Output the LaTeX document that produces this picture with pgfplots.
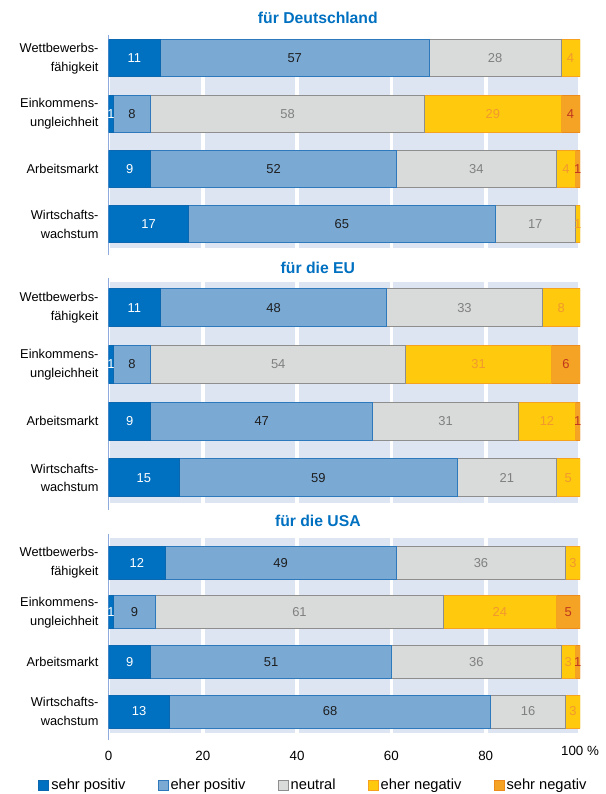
\documentclass[border=0pt]{standalone}
\usepackage{fontspec}
\setmainfont{Liberation Sans}
\usepackage{pgfplots}
\usepackage{pgfplotstable}
\pgfplotsset{compat=1.18}
\definecolor{cSP}{HTML}{0070C0}
\definecolor{cSPd}{HTML}{0A67B0}
\definecolor{cEP}{HTML}{7AA9D4}
\definecolor{cEPd}{HTML}{2E78BC}
\definecolor{cNE}{HTML}{D9DADA}
\definecolor{cNEd}{HTML}{8E8E8E}
\definecolor{cEN}{HTML}{FFC90D}
\definecolor{cENd}{HTML}{F7A21E}
\definecolor{cSN}{HTML}{F5A324}
\definecolor{cSNd}{HTML}{EC8A1C}
\definecolor{tEN}{HTML}{F2992E}
\definecolor{tSN}{HTML}{C0371F}
\definecolor{tNE}{HTML}{808080}
\definecolor{tEP}{HTML}{1E1E1E}
\definecolor{bgc}{HTML}{DDE5F3}
\definecolor{axl}{HTML}{8FAADC}
\definecolor{ttl}{HTML}{0070C0}

\pgfplotstableread{
y sp ep ne en sn
0 11 57 28 4 0
1 1 8 58 29 4
2 9 52 34 4 1
3 17 65 17 1 0
}\dataDE
\pgfplotstableread{
y sp ep ne en sn
0 11 48 33 8 0
1 1 8 54 31 6
2 9 47 31 12 1
3 15 59 21 5 0
}\dataEU
\pgfplotstableread{
y sp ep ne en sn
0 12 49 36 3 0
1 1 9 61 24 5
2 9 51 36 3 1
3 13 68 16 3 0
}\dataUS

\pgfplotsset{
  panel/.style={
    xbar stacked, scale only axis, width=353.625pt, xmin=0, xmax=100,
    y dir=reverse, ytick={0,1,2,3},
    yticklabels={{Wettbewerbs-\\fähigkeit},{Einkommens-\\ungleichheit},{Arbeitsmarkt},{Wirtschafts-\\wachstum}},
    yticklabel style={align=right, font=\fontsize{9.6}{14}\selectfont, xshift=-4pt},
    xtick={0,20,40,60,80,100}, xmajorgrids, grid style={white, line width=2.8pt},
    axis background/.style={fill=bgc},
    major tick length=0pt,
    bar width=0.665,
    axis y line*=left, axis x line*=bottom,
    x axis line style={draw=none},
    y axis line style={draw=axl, line width=0.75pt, shorten <=-3pt, shorten >=-5pt},
    title style={at={(0.444,1)}, anchor=center, font=\fontsize{11.8}{14}\selectfont\bfseries, text=ttl},
    anchor=north west,
  },
  labs/.style={scale only axis, width=353.625pt, xmin=0, xmax=100, y dir=reverse, hide axis, anchor=north west},
  lab/.style={draw=none, mark=none, nodes near coords, point meta=explicit symbolic,
    every node near coord/.append style={anchor=center, font=\fontsize{9.7}{11}\selectfont, text=#1}},
  bSP/.style={fill=cSP, draw=cSPd, line width=0.75pt},
  bEP/.style={fill=cEP, draw=cEPd, line width=0.75pt},
  bNE/.style={fill=cNE, draw=cNEd, line width=0.75pt},
  bEN/.style={fill=cEN, draw=cENd, line width=0.75pt},
  bSN/.style={fill=cSN, draw=cSNd, line width=0.75pt},
}

\begin{document}
\begin{tikzpicture}
\useasboundingbox (0,0) rectangle (454.5pt,-595.5pt);

% ---------------- Deutschland
\begin{axis}[panel, at={(81.375pt,-29.25pt)}, height=156.75pt, ymin=-0.35, ymax=3.43,
  xticklabels={,,,,,}, title={für Deutschland}, title style={yshift=9.75pt}]
\addplot[bSP] table[x=sp,y=y]{\dataDE};
\addplot[bEP] table[x=ep,y=y]{\dataDE};
\addplot[bNE] table[x=ne,y=y]{\dataDE};
\addplot[bEN] table[x=en,y=y]{\dataDE};
\addplot[bSN] table[x=sn,y=y]{\dataDE};
\end{axis}
\begin{axis}[labs, at={(81.375pt,-29.25pt)}, height=156.75pt, ymin=-0.35, ymax=3.43]
\addplot[lab=white] table[meta=l]{
x y l
5.5 0 11
0.5 1 1
4.5 2 9
8.5 3 17
};
\addplot[lab=tEP] table[meta=l]{
x y l
39.5 0 57
5 1 8
35 2 52
49.5 3 65
};
\addplot[lab=tNE] table[meta=l]{
x y l
82 0 28
38 1 58
78 2 34
90.5 3 17
};
\addplot[lab=tEN] table[meta=l]{
x y l
98 0 4
81.5 1 29
97 2 4
99.5 3 1
};
\addplot[lab=tSN] table[meta=l]{
x y l
98 1 4
99.5 2 1
};
\end{axis}

% ---------------- EU
\begin{axis}[panel, at={(81.375pt,-211.5pt)}, height=165.75pt, ymin=-0.455, ymax=3.444,
  xticklabels={,,,,,}, title={für die EU}, title style={yshift=4.5pt}]
\addplot[bSP] table[x=sp,y=y]{\dataEU};
\addplot[bEP] table[x=ep,y=y]{\dataEU};
\addplot[bNE] table[x=ne,y=y]{\dataEU};
\addplot[bEN] table[x=en,y=y]{\dataEU};
\addplot[bSN] table[x=sn,y=y]{\dataEU};
\end{axis}
\begin{axis}[labs, at={(81.375pt,-211.5pt)}, height=165.75pt, ymin=-0.455, ymax=3.444]
\addplot[lab=white] table[meta=l]{
x y l
5.5 0 11
0.5 1 1
4.5 2 9
7.5 3 15
};
\addplot[lab=tEP] table[meta=l]{
x y l
35 0 48
5 1 8
32.5 2 47
44.5 3 59
};
\addplot[lab=tNE] table[meta=l]{
x y l
75.5 0 33
36 1 54
71.5 2 31
84.5 3 21
};
\addplot[lab=tEN] table[meta=l]{
x y l
96 0 8
78.5 1 31
93 2 12
97.5 3 5
};
\addplot[lab=tSN] table[meta=l]{
x y l
97 1 6
99.5 2 1
};
\end{axis}

% ---------------- USA
\begin{axis}[panel, at={(81.375pt,-403.5pt)}, height=146.25pt, ymin=-0.5, ymax=3.433,
  xtick={0,20,40,60,80},
  xticklabels={0,20,40,60,80},
  xticklabel style={font=\fontsize{10}{12}\selectfont, yshift=-10pt},
  extra x ticks={100}, extra x tick labels={100 \%},
  extra x tick style={xticklabel style={yshift=4pt}},
  title={für die USA}, title style={yshift=6.75pt},
  legend columns=5,
  legend style={at={(-0.1495,-0.2667)}, anchor=west, draw=none, fill=none, inner sep=0pt,
    font=\fontsize{11}{12}\selectfont,
    /tikz/every even column/.append style={column sep=22.6pt}, nodes={inner xsep=1.5pt}},
  legend image code/.code={\draw[#1, line width=0.75pt] (0pt,-3.75pt) rectangle (7.5pt,3.75pt);},
  ]
\addplot[bSP] table[x=sp,y=y]{\dataUS};
\addlegendentry{sehr positiv}
\addplot[bEP] table[x=ep,y=y]{\dataUS};
\addlegendentry{eher positiv}
\addplot[bNE] table[x=ne,y=y]{\dataUS};
\addlegendentry{neutral}
\addplot[bEN] table[x=en,y=y]{\dataUS};
\addlegendentry{eher negativ}
\addplot[bSN] table[x=sn,y=y]{\dataUS};
\addlegendentry{sehr negativ}
\end{axis}
\begin{axis}[labs, at={(81.375pt,-403.5pt)}, height=146.25pt, ymin=-0.5, ymax=3.433]
\addplot[lab=white] table[meta=l]{
x y l
6 0 12
0.5 1 1
4.5 2 9
6.5 3 13
};
\addplot[lab=tEP] table[meta=l]{
x y l
36.5 0 49
5.5 1 9
34.5 2 51
47 3 68
};
\addplot[lab=tNE] table[meta=l]{
x y l
79 0 36
40.5 1 61
78 2 36
89 3 16
};
\addplot[lab=tEN] table[meta=l]{
x y l
98.5 0 3
83 1 24
97.5 2 3
98.5 3 3
};
\addplot[lab=tSN] table[meta=l]{
x y l
97.5 1 5
99.5 2 1
};
\end{axis}
\end{tikzpicture}
\end{document}
